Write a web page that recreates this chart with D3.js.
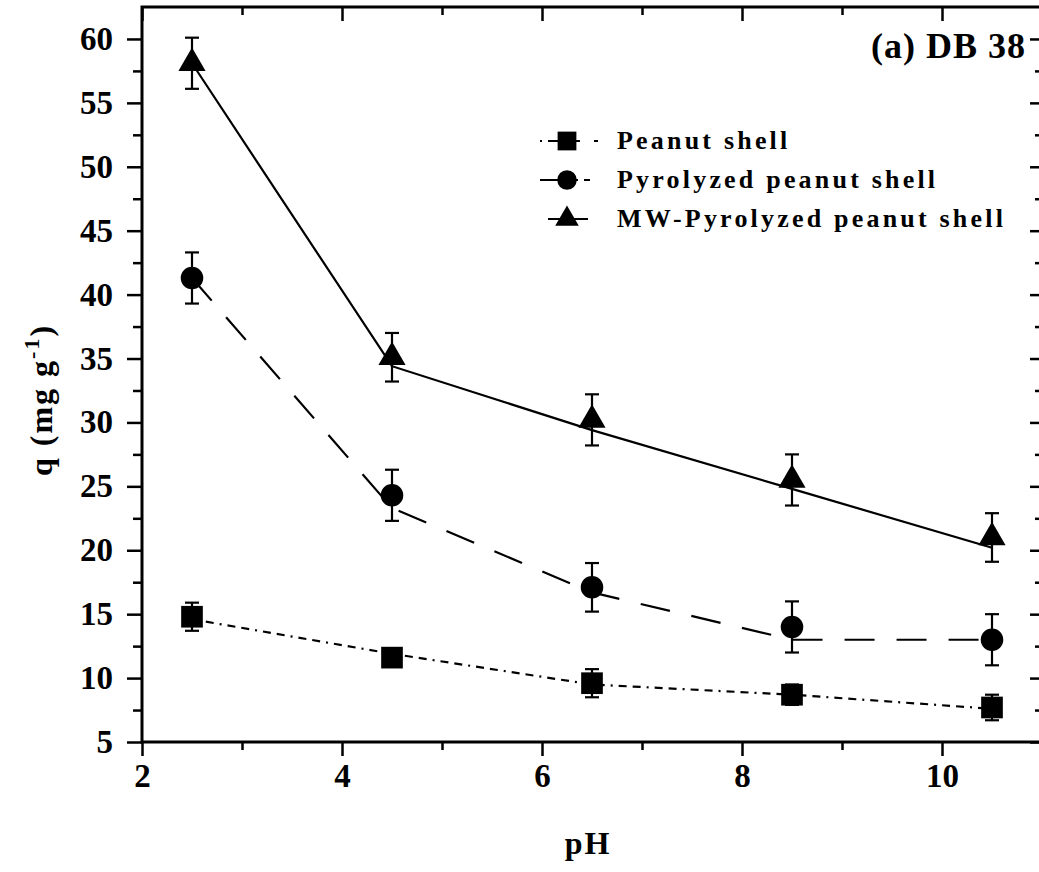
<!DOCTYPE html>
<html>
<head>
<meta charset="utf-8">
<script src="https://cdn.jsdelivr.net/npm/d3@7"></script>
<style>
  html, body { margin: 0; padding: 0; background: #fff; }
  svg { display: block; }
  text { font-family: "Liberation Serif", "Times New Roman", serif; font-weight: bold; fill: #000; }
</style>
</head>
<body>
<svg id="chart" width="1039" height="872"></svg>
<script>
// measured points (pH vs q)
const phValues = [2.5, 4.5, 6.5, 8.5, 10.5];

const peanut = [14.8, 11.6, 9.6, 8.7, 7.7];
const peanutErr = [1.1, 0.7, 1.1, 0.8, 1.0];
const peanutLine = [14.6, 11.9, 9.5, 8.7, 7.6];

const pyrolyzed = [41.3, 24.3, 17.1, 14.0, 13.0];
const pyrolyzedErr = [2.0, 2.0, 1.9, 2.0, 2.0];
const pyrolyzedLine = [41.3, 23.3, 16.7, 13.0, 13.0];

const mwPyrolyzed = [58.1, 35.1, 30.2, 25.5, 21.0];
const mwPyrolyzedErr = [2.0, 1.9, 2.0, 2.0, 1.9];
const mwPyrolyzedLine = [58.1, 34.4, 29.4, 24.8, 20.2];

const xTicks = [2, 4, 6, 8, 10];
const yTicks = [5, 10, 15, 20, 25, 30, 35, 40, 45, 50, 55, 60];
const seriesNames = ["Peanut shell", "Pyrolyzed peanut shell", "MW-Pyrolyzed peanut shell"];

const svg = d3.select("#chart");

const x = d3.scaleLinear().domain([2, 11]).range([142, 1042]);
const y = d3.scaleLinear().domain([5, 62.5]).range([742, 7]);

const series = [
  { name: seriesNames[0], vals: peanut, err: peanutErr, line: peanutLine, shape: d3.symbolSquare, size: 470, dash: "8,6,8,6,2,6" },
  { name: seriesNames[1], vals: pyrolyzed, err: pyrolyzedErr, line: pyrolyzedLine, shape: d3.symbolCircle, size: 400, dash: "30,22" },
  { name: seriesNames[2], vals: mwPyrolyzed, err: mwPyrolyzedErr, line: mwPyrolyzedLine, shape: d3.symbolTriangle, size: 320, dash: null }
];

// axes: left/bottom ticks outward, top/right ticks inward
const x0 = x.range()[0], x1 = x.range()[1], y0 = y.range()[0], y1 = y.range()[1];
const minorX = d3.range(3, 11.01, 2);
const minorY = d3.range(7.5, 62.5, 5);

svg.append("g")
  .attr("transform", `translate(0,${y0})`)
  .call(d3.axisBottom(x).tickValues(xTicks).tickSize(14).tickPadding(8).tickFormat(d3.format("d")))
  .call(g => g.selectAll(".tick text").attr("font-size", 33).attr("font-family", "Liberation Serif").attr("font-weight", "bold"));

svg.append("g")
  .attr("transform", `translate(0,${y0})`)
  .call(d3.axisBottom(x).tickValues(minorX).tickSize(8).tickFormat(""));

svg.append("g")
  .attr("transform", `translate(${x0},0)`)
  .call(d3.axisLeft(y).tickValues(yTicks).tickSize(15).tickPadding(14).tickFormat(d3.format("d")))
  .call(g => g.selectAll(".tick text").attr("font-size", 33).attr("font-family", "Liberation Serif").attr("font-weight", "bold"));

svg.append("g")
  .attr("transform", `translate(${x0},0)`)
  .call(d3.axisLeft(y).tickValues(minorY).tickSize(9).tickFormat(""));

svg.append("g")
  .attr("transform", `translate(0,${y1})`)
  .call(d3.axisBottom(x).tickValues(xTicks).tickSize(14).tickFormat(""));

svg.append("g")
  .attr("transform", `translate(0,${y1})`)
  .call(d3.axisBottom(x).tickValues(minorX).tickSize(8).tickFormat(""));

svg.append("g")
  .attr("transform", `translate(${x1},0)`)
  .call(d3.axisLeft(y).tickValues(yTicks).tickSize(12).tickFormat(""));

svg.append("g")
  .attr("transform", `translate(${x1},0)`)
  .call(d3.axisLeft(y).tickValues(minorY).tickSize(7).tickFormat(""));

svg.selectAll(".domain").remove();
svg.selectAll(".tick line").attr("stroke", "#000").attr("stroke-width", 2.5);

svg.append("rect")
  .attr("x", x0).attr("y", y1)
  .attr("width", x1 - x0).attr("height", y0 - y1)
  .attr("fill", "none").attr("stroke", "#000").attr("stroke-width", 3);

// connecting lines
const lineGen = d3.line().x((d, i) => x(phValues[i])).y(d => y(d));
series.forEach(s => {
  svg.append("path")
    .attr("d", lineGen(s.line))
    .attr("fill", "none").attr("stroke", "#000").attr("stroke-width", 2.2)
    .attr("stroke-dasharray", s.dash);
});

// error bars and markers
series.forEach(s => {
  const g = svg.append("g");
  s.vals.forEach((v, i) => {
    const cx = x(phValues[i]);
    const top = y(v + s.err[i]), bot = y(v - s.err[i]);
    g.append("line").attr("x1", cx).attr("x2", cx).attr("y1", top).attr("y2", bot)
      .attr("stroke", "#000").attr("stroke-width", 2.2);
    [top, bot].forEach(yy => g.append("line")
      .attr("x1", cx - 7).attr("x2", cx + 7).attr("y1", yy).attr("y2", yy)
      .attr("stroke", "#000").attr("stroke-width", 2.2));
  });
  g.selectAll("path.mark")
    .data(s.vals)
    .enter().append("path")
    .attr("class", "mark")
    .attr("d", d3.symbol().type(s.shape).size(s.size))
    .attr("transform", (d, i) => `translate(${x(phValues[i])},${y(d)})`)
    .attr("fill", "#000");
});

// legend
const legend = svg.append("g");
series.forEach((s, i) => {
  const ly = 141 + i * 39;
  legend.append("line")
    .attr("x1", s.dash ? 540 : 548).attr("x2", s.dash ? 598 : 588)
    .attr("y1", ly).attr("y2", ly)
    .attr("stroke", "#000").attr("stroke-width", 2.2)
    .attr("stroke-dasharray", i === 0 ? "2,6,14,8,2" : (i === 1 ? "14,0,24,6,6" : null));
  legend.append("path")
    .attr("d", d3.symbol().type(s.shape).size(s.size * 0.75))
    .attr("transform", `translate(567,${ly})`)
    .attr("fill", "#000");
  legend.append("text")
    .attr("x", 617).attr("y", ly + 8)
    .attr("font-size", 26)
    .attr("letter-spacing", 3.2)
    .text(s.name);
});

// panel label
svg.append("text")
  .attr("x", 1026).attr("y", 58)
  .attr("text-anchor", "end")
  .attr("font-size", 36)
  .attr("letter-spacing", 1)
  .text("(a) DB 38");

// axis titles
svg.append("text")
  .attr("x", 588).attr("y", 854)
  .attr("text-anchor", "middle")
  .attr("font-size", 32)
  .attr("letter-spacing", 2)
  .text("pH");

const yTitle = svg.append("text")
  .attr("transform", "translate(52,400) rotate(-90)")
  .attr("text-anchor", "middle")
  .attr("font-size", 32)
  .attr("letter-spacing", 2);
yTitle.append("tspan").text("q (mg g");
yTitle.append("tspan").attr("dy", -13).attr("font-size", 22).text("-1");
yTitle.append("tspan").attr("dy", 13).text(")");
</script>
</body>
</html>
